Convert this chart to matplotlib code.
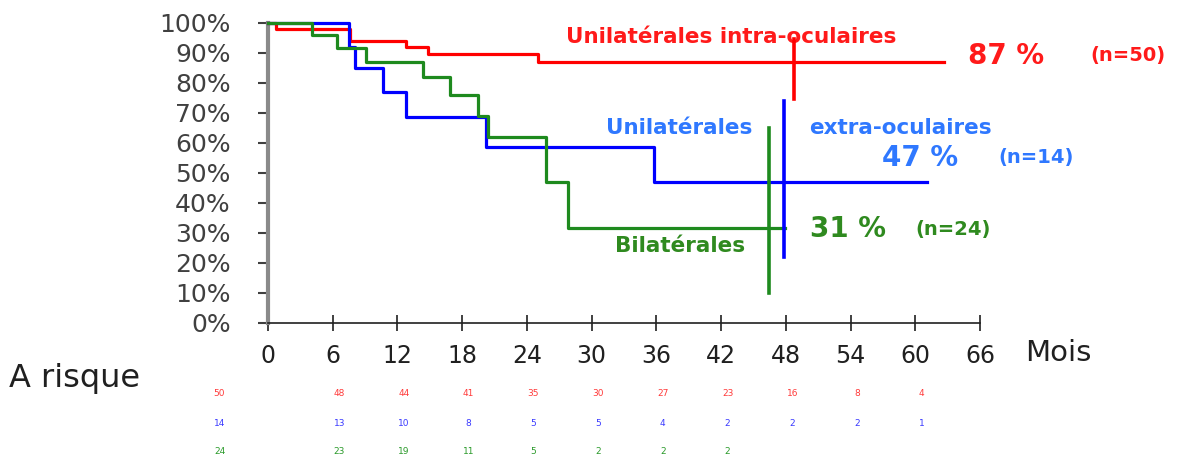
import matplotlib.pyplot as plt

# Kaplan-Meier survival by group (months, % survival)
months_intra = [0, 0.7, 7.6, 12.8, 14.8, 25.0, 62.7]
surv_intra = [100, 98, 94, 92, 89.5, 87, 87]

months_extra = [0, 7.5, 8.1, 10.7, 12.8, 20.2, 35.8, 61.1]
surv_extra = [100, 92, 85, 77, 68.5, 58.5, 47, 47]

months_bilat = [0, 4.1, 6.4, 9.1, 14.4, 16.9, 19.5, 20.4, 25.8, 27.8, 47.9]
surv_bilat = [100, 96, 91.5, 87, 82, 76, 69, 62, 47, 31.5, 31.5]

# long vertical marks: (month, low %, high %)
mark_intra = (48.8, 74.5, 94.5)
mark_extra = (47.8, 22, 74)
mark_bilat = (46.4, 10, 65)

# numbers at risk
risk_months = [0, 6, 12, 18, 24, 30, 36, 42, 48, 54, 60]
risk_intra = [50, 48, 44, 41, 35, 30, 27, 23, 16, 8, 4]
risk_extra = [14, 13, 10, 8, 5, 5, 4, 2, 2, 2, 1]
risk_bilat = [24, 23, 19, 11, 5, 2, 2, 2]

red, blue, green = '#ff0000', '#0000ff', '#1e8a1e'
red_txt, blue_txt, green_txt = '#ff1a1a', '#2f78ff', '#2f8a1f'

fig = plt.figure(figsize=(11.85, 4.58), dpi=100)
ax = fig.add_axes([0.2262, 0.2954, 0.6008, 0.655])

for t, s, c in [(months_intra, surv_intra, red),
                (months_extra, surv_extra, blue),
                (months_bilat, surv_bilat, green)]:
    ax.step(t, s, where='post', color=c, lw=2.3, clip_on=False, zorder=3)

for (m, lo, hi), c in [(mark_intra, red), (mark_extra, blue), (mark_bilat, green)]:
    ax.plot([m, m], [lo, hi], color=c, lw=2.6, clip_on=False, zorder=4)

ax.set_xlim(0, 66)
ax.set_ylim(0, 100)
ax.set_xticks(range(0, 67, 6))
ax.set_yticks(range(0, 101, 10))
ax.set_yticklabels(['%d%%' % v for v in range(0, 101, 10)],
                   fontsize=18, color='#404040')
ax.set_xticklabels([str(v) for v in range(0, 67, 6)], fontsize=17, color='#202020')
for s in ['top', 'right']:
    ax.spines[s].set_visible(False)
ax.spines['left'].set_color('#8a8a8a')
ax.spines['left'].set_linewidth(3)
ax.spines['bottom'].set_color('#202020')
ax.spines['bottom'].set_linewidth(1.2)
ax.tick_params(axis='y', direction='out', length=7, width=1.5, color='#404040', pad=20)
ax.tick_params(axis='x', direction='inout', length=12, width=1.2, color='#202020', pad=9)

ax.text(70.2, -10, 'Mois', fontsize=21, color='#202020', va='center', ha='left',
        clip_on=False)

# group labels
ax.text(42.9, 95.2, 'Unilatérales intra-oculaires', color=red_txt, fontsize=15.5,
        fontweight='bold', ha='center', va='center')
ax.text(64.9, 89, '87 %', color=red_txt, fontsize=20, fontweight='bold', va='center')
ax.text(76.2, 89, '(n=50)', color=red_txt, fontsize=14, fontweight='bold', va='center')

ax.text(38.1, 64.9, 'Unilatérales', color=blue_txt, fontsize=15.5, fontweight='bold',
        ha='center', va='center')
ax.text(50.2, 64.9, 'extra-oculaires', color=blue_txt, fontsize=15.5, fontweight='bold',
        va='center')
ax.text(56.9, 55, '47 %', color=blue_txt, fontsize=20, fontweight='bold', va='center')
ax.text(67.7, 55, '(n=14)', color=blue_txt, fontsize=14, fontweight='bold', va='center')

ax.text(50.2, 31.2, '31 %', color=green_txt, fontsize=20, fontweight='bold', va='center')
ax.text(60.0, 31.2, '(n=24)', color=green_txt, fontsize=14, fontweight='bold', va='center')
ax.text(38.2, 25.6, 'Bilatérales', color=green_txt, fontsize=15.5, fontweight='bold',
        ha='center', va='center')

# at-risk table
fig.text(0.008, 1 - 378 / 458, 'A risque', fontsize=23, color='#202020', va='center')
for counts, c, yp in [(risk_intra, '#ff3a3a', 393), (risk_extra, '#3a3aff', 423),
                      (risk_bilat, '#2a9a2a', 451)]:
    for i, (m, n) in enumerate(zip(risk_months, counts)):
        xm = -4.5 if i == 0 else m + 0.6
        ax.text(xm, -(yp - 322.7) / 300.0, str(n), color=c, fontsize=6.5,
                ha='center', va='center', transform=ax.get_xaxis_transform(),
                clip_on=False)

fig.savefig('out.png', dpi=100)
